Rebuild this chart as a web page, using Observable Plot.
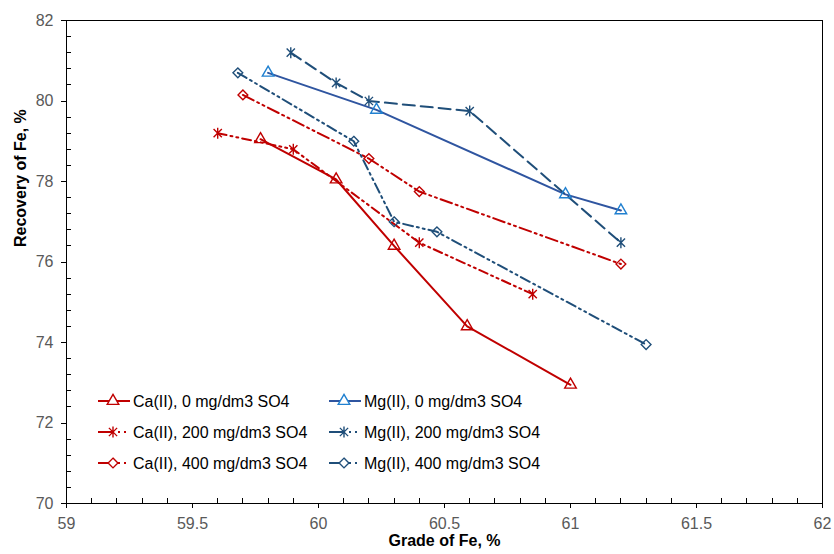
<!DOCTYPE html>
<html>
<head>
<meta charset="utf-8">
<script src="https://cdn.jsdelivr.net/npm/d3@7"></script>
<script src="https://cdn.jsdelivr.net/npm/@observablehq/plot@0.6"></script>
<style>
  html, body { margin: 0; padding: 0; background: #fff; }
  #wrap { position: relative; width: 834px; height: 554px; }
  #wrap svg.legend { position: absolute; left: 0; top: 0; pointer-events: none; }
</style>
</head>
<body>
<div id="wrap"></div>
<script>
// ---- data ----
const caGrade0   = [59.77, 60.07, 60.30, 60.59, 61.00];
const caRec0     = [79.05, 78.05, 76.40, 74.40, 72.95];
const caGrade200 = [59.60, 59.90, 60.40, 60.85];
const caRec200   = [79.20, 78.80, 76.48, 75.20];
const caGrade400 = [59.70, 60.20, 60.40, 61.20];
const caRec400   = [80.15, 78.57, 77.75, 75.95];
const mgGrade0   = [59.80, 60.23, 60.98, 61.20];
const mgRec0     = [80.70, 79.78, 77.68, 77.28];
const mgGrade200 = [59.89, 60.07, 60.20, 60.60, 61.20];
const mgRec200   = [81.20, 80.45, 80.00, 79.75, 76.48];
const mgGrade400 = [59.68, 60.14, 60.30, 60.47, 61.30];
const mgRec400   = [80.70, 79.00, 77.00, 76.75, 73.95];

const seriesNames = [
  "Ca(II), 0 mg/dm3 SO4", "Ca(II), 200 mg/dm3 SO4", "Ca(II), 400 mg/dm3 SO4",
  "Mg(II), 0 mg/dm3 SO4", "Mg(II), 200 mg/dm3 SO4", "Mg(II), 400 mg/dm3 SO4"
];

const xTicks = [59, 59.5, 60, 60.5, 61, 61.5, 62];
const yTicks = [70, 72, 74, 76, 78, 80, 82];
const xMinorTicks = [59.1, 59.2, 59.3, 59.4, 59.6, 59.7, 59.8, 59.9, 60.1, 60.2, 60.3, 60.4,
  60.6, 60.7, 60.8, 60.9, 61.1, 61.2, 61.3, 61.4, 61.6, 61.7, 61.8, 61.9];
const yMinorTicks = [70.4, 70.8, 71.2, 71.6, 72.4, 72.8, 73.2, 73.6, 74.4, 74.8, 75.2, 75.6,
  76.4, 76.8, 77.2, 77.6, 78.4, 78.8, 79.2, 79.6, 80.4, 80.8, 81.2, 81.6];
const xTitle = "Grade of Fe, %";
const yTitle = "Recovery of Fe, %";

// ---- styles ----
const RED = "#C00000";
const BLUE_LINE = "#2F55A0";
const BLUE_MARK = "#2080D0";
const NAVY = "#1F4E79";

const excelStar = {
  draw(ctx, size) {
    const r = Math.sqrt(size / Math.PI);
    const d = r * 0.75;
    ctx.moveTo(0, -r); ctx.lineTo(0, r);
    ctx.moveTo(-d, -d); ctx.lineTo(d, d);
    ctx.moveTo(-d, d); ctx.lineTo(d, -d);
  }
};

const series = [
  {name: seriesNames[0], gx: caGrade0, ry: caRec0, line: RED, mark: RED, dash: null, symbol: "triangle", r: 4.3},
  {name: seriesNames[1], gx: caGrade200, ry: caRec200, line: RED, mark: RED, dash: "9,4,2,4,2,4", symbol: excelStar, r: 5.5},
  {name: seriesNames[2], gx: caGrade400, ry: caRec400, line: RED, mark: RED, dash: "12,4,2,4,2,4", symbol: "diamond2", r: 4.4},
  {name: seriesNames[3], gx: mgGrade0, ry: mgRec0, line: BLUE_LINE, mark: BLUE_MARK, dash: null, symbol: "triangle", r: 4.3},
  {name: seriesNames[4], gx: mgGrade200, ry: mgRec200, line: NAVY, mark: NAVY, dash: "12,6", symbol: excelStar, r: 5.5},
  {name: seriesNames[5], gx: mgGrade400, ry: mgRec400, line: NAVY, mark: NAVY, dash: "10,4,2,4,2,4", symbol: "diamond2", r: 4.4}
];

const W = 834, H = 554;
const mL = 66, mR = 12, mT = 20, mB = 51;
const innerW = W - mL - mR, innerH = H - mT - mB;

const marks = [];
for (const s of series) {
  const rows = s.gx.map((g, i) => ({g, r: s.ry[i]}));
  marks.push(Plot.line(rows, {x: "g", y: "r", stroke: s.line, strokeWidth: 2, strokeDasharray: s.dash}));
}
for (const s of series) {
  const rows = s.gx.map((g, i) => ({g, r: s.ry[i]}));
  marks.push(Plot.dot(rows, {x: "g", y: "r", symbol: () => s.symbol, r: s.r, stroke: s.mark, fill: "none", strokeWidth: 1.4}));
}

const chart = Plot.plot({
  width: W, height: H,
  marginLeft: mL, marginRight: mR, marginTop: mT, marginBottom: mB,
  style: {fontFamily: "'Liberation Sans', Arial, sans-serif", fontSize: "16px", background: "#fff"},
  x: {domain: [59, 62]},
  y: {domain: [70, 82]},
  symbol: {type: "identity"},
  marks: [
    Plot.frame({stroke: "black", strokeWidth: 1, shapeRendering: "crispEdges"}),
    Plot.tickX(xMinorTicks, {x: d => d, insetTop: innerH - 5, stroke: "black", shapeRendering: "crispEdges"}),
    Plot.tickY(yMinorTicks, {y: d => d, insetRight: innerW - 5, stroke: "black", shapeRendering: "crispEdges"}),
    Plot.axisX(xTicks, {tickSize: 5, tickPadding: 9, tickFormat: d => String(d), fill: "#595959", stroke: "black", label: null, fontSize: 16, shapeRendering: "crispEdges"}),
    Plot.axisY(yTicks, {tickSize: 5, tickPadding: 8, tickFormat: d => String(d), fill: "#595959", stroke: "black", label: null, fontSize: 16, shapeRendering: "crispEdges"}),
    Plot.text([xTitle], {frameAnchor: "bottom", text: d => d, dy: 42, fontWeight: "bold", fontSize: 16, fill: "black"}),
    Plot.text([yTitle], {frameAnchor: "left", text: d => d, dx: -46, dy: -15, rotate: -90, fontWeight: "bold", fontSize: 16, fill: "black"}),
    ...marks
  ]
});

const wrap = document.getElementById("wrap");
wrap.appendChild(chart);

// ---- legend overlay ----
const leg = d3.select(wrap).append("svg")
  .attr("class", "legend")
  .attr("width", W).attr("height", H)
  .style("font-family", "'Liberation Sans', Arial, sans-serif")
  .style("font-size", "16px");

const colX = [98, 329];
const rowY = [401, 432, 463];
series.forEach((s, i) => {
  const col = i < 3 ? 0 : 1;
  const row = i % 3;
  const x0 = colX[col], y0 = rowY[row];
  const g = leg.append("g");
  g.append("line")
    .attr("x1", x0).attr("x2", x0 + 32).attr("y1", y0).attr("y2", y0)
    .attr("stroke", s.line).attr("stroke-width", 2)
    .attr("stroke-dasharray", s.dash ? "16,4,2,4,2,4" : null);
  const sym = typeof s.symbol === "string"
    ? (s.symbol === "triangle" ? d3.symbolTriangle : d3.symbolDiamond2)
    : s.symbol;
  g.append("path")
    .attr("d", d3.symbol(sym, Math.PI * s.r * s.r)())
    .attr("transform", `translate(${x0 + 15},${y0})`)
    .attr("fill", "white").attr("stroke", s.mark).attr("stroke-width", 1.4);
  g.append("text")
    .attr("x", x0 + 35).attr("y", y0).attr("dy", "0.35em")
    .attr("fill", "black")
    .text(s.name);
});
</script>
</body>
</html>
